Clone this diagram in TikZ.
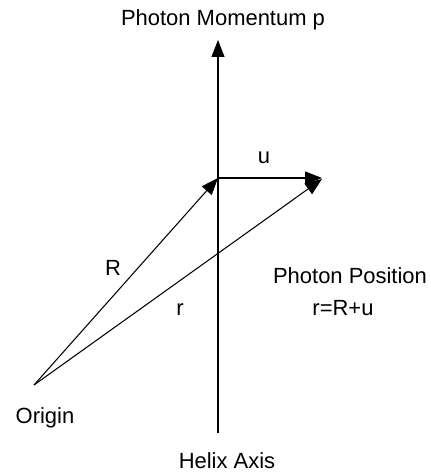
\documentclass[tikz,border=0pt]{standalone}
\usepackage{fontspec}
\setmainfont{Liberation Sans}
\usetikzlibrary{arrows.meta}
\tikzset{
  vetor/.style={-{Triangle[length=0.34cm, width=0.26cm]}, line width=0.6pt},
  rotulo/.style={font=\fontsize{12.5}{15}\selectfont, inner sep=0pt, anchor=base},
}
\begin{document}
\begin{tikzpicture}[x=0.02cm,y=-0.02cm]
    \useasboundingbox (0,0) rectangle (431,473);

    %% ---------- pontos ----------
    \coordinate (origem) at (34,385);
    \coordinate (centro) at (218,178);
    \coordinate (pontaU) at (322,178);
    \coordinate (pontaR) at (322,179);
    \coordinate (topo)   at (218,40);
    \coordinate (base)   at (218,433);

    %% ---------- eixo e vetores ----------
    \draw[vetor] (base) -- (topo);
    \draw[vetor] (origem) -- (centro);
    \draw[vetor] (centro) -- (pontaU);
    \draw[vetor] (origem) -- (pontaR);

    %% ---------- rotulos ----------
    \node[rotulo] (lbMom)  at (223,26)  {Photon Momentum p};
    \node[rotulo] (lbHel)  at (227,468) {Helix Axis};
    \node[rotulo] (lbOri)  at (45,423)  {Origin};
    \node[rotulo] (lbU)    at (264,163) {u};
    \node[rotulo] (lbR)    at (113,275) {R};
    \node[rotulo] (lbr)    at (180,315) {r};
    \node[rotulo] (lbPos)  at (350,283) {Photon Position};
    \node[rotulo] (lbSoma) at (343,315) {r=R+u};

\end{tikzpicture}
\end{document}
